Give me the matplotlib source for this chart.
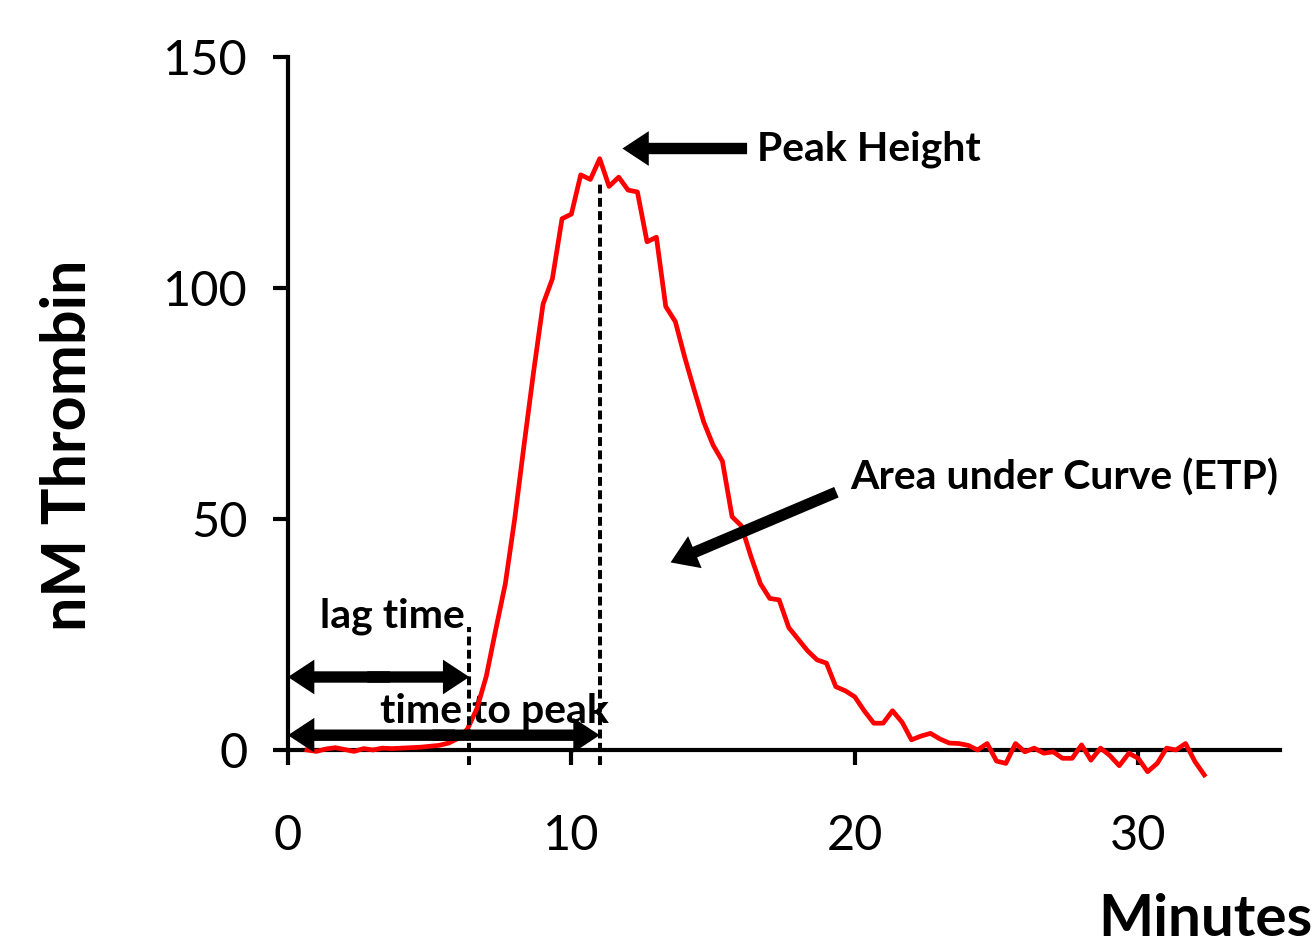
import matplotlib
matplotlib.use('Agg')
import matplotlib.pyplot as plt
from matplotlib.patches import ArrowStyle

plt.rcParams['font.family'] = ['Lato', 'DejaVu Sans']

# thrombin generation curve, sampled every 20 s
minutes = [0.67, 1.0, 1.33, 1.67, 2.0, 2.33, 2.67, 3.0, 3.33, 3.67,
           4.0, 4.33, 4.67, 5.0, 5.33, 5.67, 6.0, 6.33, 6.67, 7.0,
           7.33, 7.67, 8.0, 8.33, 8.67, 9.0, 9.33, 9.67, 10.0, 10.33,
           10.67, 11.0, 11.33, 11.67, 12.0, 12.33, 12.67, 13.0, 13.33, 13.67,
           14.0, 14.33, 14.67, 15.0, 15.33, 15.67, 16.0, 16.33, 16.67, 17.0,
           17.33, 17.67, 18.0, 18.33, 18.67, 19.0, 19.33, 19.67, 20.0, 20.33,
           20.67, 21.0, 21.33, 21.67, 22.0, 22.33, 22.67, 23.0, 23.33, 23.67,
           24.0, 24.33, 24.67, 25.0, 25.33, 25.67, 26.0, 26.33, 26.67, 27.0,
           27.33, 27.67, 28.0, 28.33, 28.67, 29.0, 29.33, 29.67, 30.0, 30.33,
           30.67, 31.0, 31.33, 31.67, 32.0, 32.33]
thrombin = [0.0, -0.3, 0.2, 0.5, 0.1, -0.3, 0.3, 0.0, 0.4, 0.3,
            0.4, 0.5, 0.6, 0.8, 1.0, 1.5, 2.5, 4.5, 9.0, 16.0,
            26.0, 36.0, 50.0, 66.0, 82.0, 96.5, 102.0, 115.0, 116.0, 124.5,
            123.5, 128.0, 122.0, 124.0, 121.2, 120.8, 110.0, 111.0, 96.0, 92.7,
            85.0, 78.0, 71.0, 66.0, 62.5, 50.5, 48.5, 42.0, 36.0, 32.8,
            32.5, 26.5, 24.0, 21.5, 19.5, 18.8, 13.7, 12.8, 11.5, 8.5,
            5.8, 5.8, 8.5, 6.0, 2.2, 3.0, 3.6, 2.4, 1.5, 1.4,
            1.0, 0.0, 1.4, -2.4, -2.9, 1.4, -0.4, 0.4, -0.7, -0.4,
            -1.8, -1.8, 1.1, -2.2, 0.4, -1.2, -3.4, -0.7, -1.8, -4.7,
            -2.9, 0.4, 0.0, 1.4, -2.5, -5.4]

lag_time = 6.4
time_to_peak = 11.0
peak_height = 122.7

x_ticks = [0, 10, 20, 30]
y_ticks = [0, 50, 100, 150]

fig = plt.figure(figsize=(13.16, 9.46), dpi=100)
ax = fig.add_axes([0.2188, 0.1779, 0.7538, 0.7618])

ax.plot(minutes, thrombin, color='#ff0000', lw=3.4, zorder=3)

# dashed markers for lag time and time to peak
dash = (0, (2.2, 1.1))
ax.plot([lag_time, lag_time], [-3.2, 26.6], color='black', lw=2.9, linestyle=dash, zorder=4)
ax.plot([time_to_peak, time_to_peak], [-3.2, peak_height], color='black', lw=2.9, linestyle=dash, zorder=4)

head = ArrowStyle('simple', head_length=19, head_width=25, tail_width=8.2)


def arrow(x0, y0, x1, y1):
    ax.annotate('', xy=(x1, y1), xytext=(x0, y0),
                arrowprops=dict(arrowstyle=head, mutation_scale=1, lw=0, color='black',
                                shrinkA=0, shrinkB=0), zorder=5)


# double arrows drawn as two overlapping halves
arrow(lag_time / 2 + 0.4, 15.8, 0, 15.8)
arrow(lag_time / 2 - 0.4, 15.8, lag_time, 15.8)
arrow(time_to_peak / 2 + 0.4, 3.2, 0, 3.2)
arrow(time_to_peak / 2 - 0.4, 3.2, time_to_peak, 3.2)
arrow(16.2, 130.2, 11.8, 130.2)
arrow(19.35, 55.8, 13.5, 40.6)

ax.text(1.13, 29.0, 'lag time', fontsize=29.5, fontweight='bold', va='center', ha='left')
ax.text(7.3, 8.3, 'time to peak', fontsize=29.5, fontweight='bold', va='center', ha='center', zorder=2)
ax.text(16.55, 130, 'Peak Height', fontsize=29.5, fontweight='bold', va='center', ha='left')
ax.text(19.85, 59.0, 'Area under Curve (ETP)', fontsize=29.5, fontweight='bold', va='center', ha='left')

ax.set_xlim(0, 35)
ax.set_ylim(-6, 150)
ax.set_xticks(x_ticks)
ax.set_yticks(y_ticks)
ax.tick_params(axis='both', labelsize=35, width=3, length=11, direction='out')
ax.tick_params(axis='x', pad=35)
ax.tick_params(axis='y', pad=18)

for s in ['top', 'right']:
    ax.spines[s].set_visible(False)
ax.spines['bottom'].set_position(('data', 0))
ax.spines['left'].set_bounds(0, 150)
ax.spines['left'].set_linewidth(3)
ax.spines['bottom'].set_linewidth(3)

fig.text(0.0517, 0.5296, 'nM Thrombin', fontsize=44, fontweight='bold', rotation=90,
         ha='center', va='center')
fig.text(0.997, 0.0275, 'Minutes', fontsize=42, fontweight='bold', ha='right', va='center')

fig.savefig('out.png', dpi=100)
